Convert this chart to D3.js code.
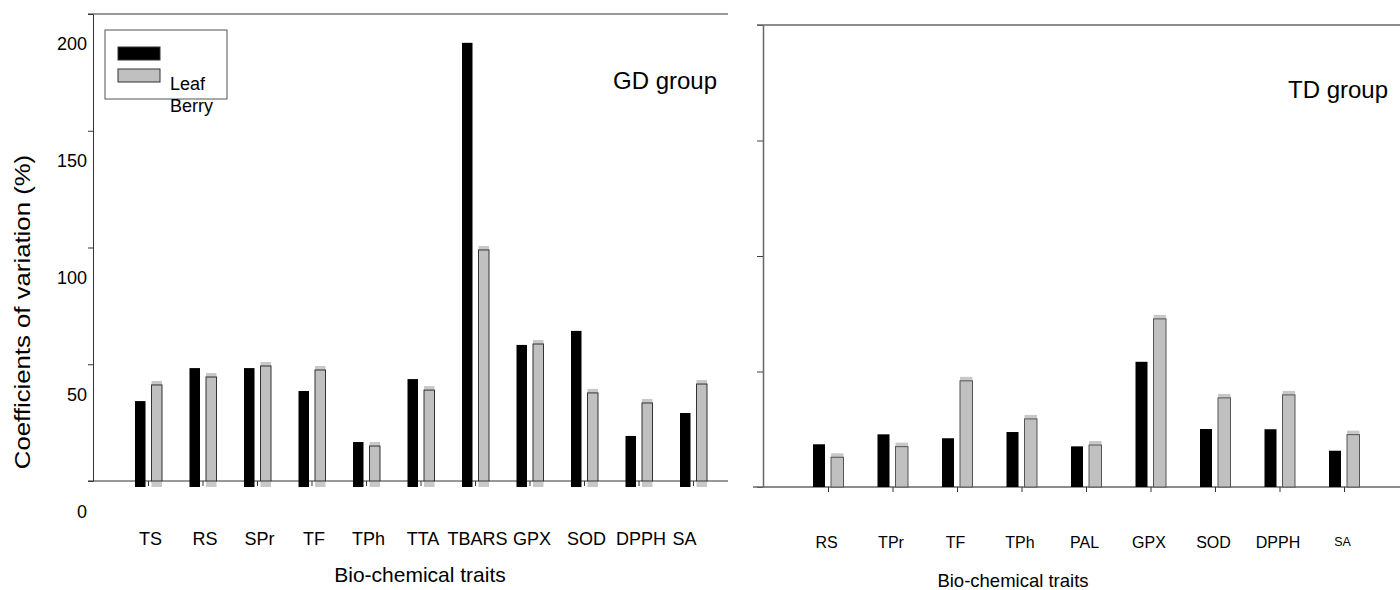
<!DOCTYPE html>
<html>
<head>
<meta charset="utf-8" />
<style>
  body { margin: 0; background: #fff; }
  svg text { font-family: "Liberation Sans", Arial, sans-serif; fill: #000; }
</style>
</head>
<body>
<div id="chart"></div>
<script src="https://d3js.org/d3.v7.min.js"></script>
<script>
// GD group (left panel)
var gdTraits = ["TS", "RS", "SPr", "TF", "TPh", "TTA", "TBARS", "GPX", "SOD", "DPPH", "SA"];
var gdLeaf   = [47.4, 61.5, 61.5, 51.7, 29.9, 56.8, 200.5, 71.4, 77.4, 32.5, 42.3];
var gdBerry  = [56.0, 59.4, 64.1, 62.4, 29.9, 53.8, 113.7, 73.5, 52.6, 48.3, 56.4];

// TD group (right panel)
var tdTraits = ["RS", "TPr", "TF", "TPh", "PAL", "GPX", "SOD", "DPPH", "SA"];
var tdLeaf   = [18.5, 22.8, 21.1, 23.8, 17.6, 54.2, 25.1, 25.0, 15.7];
var tdBerry  = [14.6, 19.2, 47.7, 31.2, 19.9, 74.5, 40.3, 41.6, 24.4];

var yTicks = [0, 50, 100, 150, 200];
var seriesNames = ["Leaf", "Berry"];

var svg = d3.select("#chart").append("svg")
  .attr("width", 1400)
  .attr("height", 590);

// ---------- left panel ----------
var xL = d3.scalePoint().domain(gdTraits).range([148, 693]);
var yL = d3.scaleLinear().domain([0, 200]).range([512, 44]);      // value scale (labels)
var yLtick = d3.scaleLinear().domain([0, 200]).range([481, 14]);  // where the ticks are drawn

var left = svg.append("g");

left.append("g")
  .attr("transform", "translate(93,0)")
  .call(d3.axisLeft(yLtick).tickValues(yTicks).tickSize(5).tickSizeOuter(0).tickFormat(""))
  .call(function(g) { g.selectAll("path,line").attr("stroke", "#333"); });

left.selectAll(".ylab")
  .data(yTicks)
  .enter().append("text")
  .attr("x", 87)
  .attr("y", function(d) { return yL(d); })
  .attr("dy", "0.35em")
  .attr("text-anchor", "end")
  .style("font-size", "18px")
  .text(function(d) { return d; });

// frame lines
left.append("line").attr("x1", 88).attr("x2", 728)
  .attr("y1", yLtick(200)).attr("y2", yLtick(200)).attr("stroke", "#333");
left.append("line").attr("x1", 88).attr("x2", 728)
  .attr("y1", yLtick(0)).attr("y2", yLtick(0)).attr("stroke", "#333");

// bars
var leftBottom = yLtick(0) + 6;
left.selectAll(".leaf")
  .data(gdTraits)
  .enter().append("rect")
  .attr("x", function(d) { return xL(d) - 13; })
  .attr("width", 10.5)
  .attr("y", function(d, i) { return yL(gdLeaf[i]); })
  .attr("height", function(d, i) { return leftBottom - yL(gdLeaf[i]); })
  .attr("fill", "#000");

left.selectAll(".berrycap")
  .data(gdTraits)
  .enter().append("rect")
  .attr("x", function(d) { return xL(d) + 3.5; })
  .attr("width", 10.5)
  .attr("y", function(d, i) { return yL(gdBerry[i]); })
  .attr("height", function(d, i) { return leftBottom - yL(gdBerry[i]); })
  .attr("fill", "#c8c8c8");

left.selectAll(".berry")
  .data(gdTraits)
  .enter().append("rect")
  .attr("x", function(d) { return xL(d) + 3.5; })
  .attr("width", 10.5)
  .attr("y", function(d, i) { return yL(gdBerry[i]) + 4; })
  .attr("height", function(d, i) { return yLtick(0) - yL(gdBerry[i]) - 4; })
  .attr("fill", "#c0c0c0")
  .attr("stroke", "#333")
  .attr("stroke-width", 1);

// x axis ticks + labels
left.append("g")
  .attr("transform", "translate(0," + yLtick(0) + ")")
  .call(d3.axisBottom(xL).tickSize(5).tickPadding(46))
  .call(function(g) {
    g.select(".domain").remove();
    g.selectAll("line").attr("stroke", "#333");
    g.selectAll("text")
      .attr("x", function(d) { return d === "SA" ? -9 : 2; })
      .style("font-size", "18px")
      .style("font-family", "'Liberation Sans', Arial, sans-serif")
      .attr("fill", "#000");
  });

left.append("text")
  .attr("x", 420).attr("y", 582)
  .attr("text-anchor", "middle")
  .style("font-size", "21px")
  .text("Bio-chemical traits");

left.append("text")
  .attr("transform", "translate(30,312) rotate(-90) scale(1.12,1)")
  .attr("text-anchor", "middle")
  .style("font-size", "23px")
  .text("Coefficients of variation (%)");

left.append("text")
  .attr("x", 613).attr("y", 89)
  .style("font-size", "24px")
  .text("GD group");

// legend
var legend = left.append("g");
legend.append("rect")
  .attr("x", 105).attr("y", 30).attr("width", 122).attr("height", 69)
  .attr("fill", "none").attr("stroke", "#555");
legend.selectAll(".sw")
  .data(seriesNames)
  .enter().append("rect")
  .attr("x", 118)
  .attr("y", function(d, i) { return 47 + i * 22; })
  .attr("width", 42).attr("height", 13)
  .attr("fill", function(d, i) { return i === 0 ? "#000" : "#c0c0c0"; })
  .attr("stroke", "#333");
legend.selectAll(".lt")
  .data(seriesNames)
  .enter().append("text")
  .attr("x", 170)
  .attr("y", function(d, i) { return 90 + i * 22; })
  .style("font-size", "18px")
  .text(function(d) { return d; });

// ---------- right panel ----------
var xR = d3.scalePoint().domain(tdTraits).range([828, 1344]);
var yR = d3.scaleLinear().domain([0, 200]).range([487, 25]);

var right = svg.append("g");

right.append("g")
  .attr("transform", "translate(763,0)")
  .call(d3.axisLeft(yR).tickValues(yTicks).tickSize(6).tickSizeOuter(0).tickFormat(""))
  .call(function(g) {
    g.select(".domain").attr("stroke", "#666").attr("stroke-width", 1.5);
    g.selectAll("line").attr("stroke", "#444");
  });

right.append("line").attr("x1", 757).attr("x2", 1400)
  .attr("y1", yR(200)).attr("y2", yR(200)).attr("stroke", "#666").attr("stroke-width", 1.5);
right.append("line").attr("x1", 753).attr("x2", 1400)
  .attr("y1", yR(0)).attr("y2", yR(0)).attr("stroke", "#666").attr("stroke-width", 1.5);

right.selectAll(".leaf")
  .data(tdTraits)
  .enter().append("rect")
  .attr("x", function(d) { return xR(d) - 15; })
  .attr("width", 12)
  .attr("y", function(d, i) { return yR(tdLeaf[i]); })
  .attr("height", function(d, i) { return yR(0) - yR(tdLeaf[i]); })
  .attr("fill", "#000");

right.selectAll(".berrycap")
  .data(tdTraits)
  .enter().append("rect")
  .attr("x", function(d) { return xR(d) + 3; })
  .attr("width", 12.5)
  .attr("y", function(d, i) { return yR(tdBerry[i]); })
  .attr("height", function(d, i) { return yR(0) - yR(tdBerry[i]); })
  .attr("fill", "#c8c8c8");

right.selectAll(".berry")
  .data(tdTraits)
  .enter().append("rect")
  .attr("x", function(d) { return xR(d) + 3; })
  .attr("width", 12.5)
  .attr("y", function(d, i) { return yR(tdBerry[i]) + 4; })
  .attr("height", function(d, i) { return yR(0) - yR(tdBerry[i]) - 4; })
  .attr("fill", "#c0c0c0")
  .attr("stroke", "#555")
  .attr("stroke-width", 1);

right.append("g")
  .attr("transform", "translate(0," + yR(0) + ")")
  .call(d3.axisBottom(xR).tickSize(5).tickPadding(45))
  .call(function(g) {
    g.select(".domain").remove();
    g.selectAll("line").attr("stroke", "#333");
    g.selectAll("text")
      .attr("x", -2)
      .style("font-size", function(d) { return d === "SA" ? "12.5px" : "16px"; })
      .style("font-family", "'Liberation Sans', Arial, sans-serif")
      .attr("fill", "#000");
  });

right.append("text")
  .attr("x", 1013).attr("y", 587)
  .attr("text-anchor", "middle")
  .style("font-size", "18.5px")
  .text("Bio-chemical traits");

right.append("text")
  .attr("x", 1288).attr("y", 98)
  .style("font-size", "24px")
  .text("TD group");
</script>
</body>
</html>
